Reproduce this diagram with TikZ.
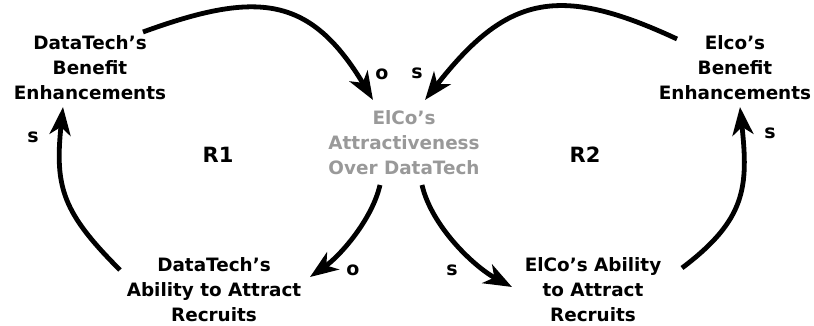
\documentclass[tikz,border=0pt]{standalone}
\usepackage{fontspec}
\setmainfont{DejaVu Sans}
\usepackage{tikz}
\usetikzlibrary{positioning, calc, arrows.meta}
\definecolor{attrgray}{gray}{0.6}

\begin{document}
\begin{tikzpicture}[x=0.5pt, y=0.5pt,
    factor/.style={align=center, font=\bfseries\fontsize{9.2}{12.5}\selectfont, inner sep=0pt},
    link/.style={line width=2.4pt, -{Stealth[length=14pt, width=10.5pt, inset=4pt]}},
    pol/.style={font=\bfseries\fontsize{9.5}{12}\selectfont, inner sep=0pt},
    loopname/.style={font=\bfseries\fontsize{10.5}{13}\selectfont, inner sep=0pt}]

    \useasboundingbox (0,0) rectangle (814,326);

    % --- Variables ---
    \node[factor] (dtben) at (90,258) {DataTech's\\Benefit\\Enhancements};
    \node[factor, text=attrgray] (attr) at (404,183) {ElCo's\\Attractiveness\\Over DataTech};
    \node[factor] (elben) at (735,258) {Elco's\\Benefit\\Enhancements};
    \node[factor] (dtabil) at (214,36) {DataTech's\\Ability to Attract\\Recruits};
    \node[factor] (elabil) at (593,36) {ElCo's Ability\\to Attract\\Recruits};

    % --- Loop names ---
    \node[loopname] (r1) at (218,171) {R1};
    \node[loopname] (r2) at (585,171) {R2};

    % --- Left loop R1 ---
    \draw[link] ([shift={(53,36)}]dtben.center) to[out=20, in=121, looseness=1.3]
        ([shift={(-31,43)}]attr.center);
    \draw[link] ([shift={(-24,-42)}]attr.center) to[out=-103, in=35, looseness=0.8]
        ([shift={(96,13)}]dtabil.center);
    \draw[link] ([shift={(-94,20)}]dtabil.center) to[out=135, in=-96, looseness=1.2]
        ([shift={(-27,-39)}]dtben.center);

    % --- Right loop R2 ---
    \draw[link] ([shift={(-58,29)}]elben.center) to[out=155, in=52, looseness=1.3]
        ([shift={(21,43)}]attr.center);
    \draw[link] ([shift={(18,-42)}]attr.center) to[out=-77, in=152, looseness=0.8]
        ([shift={(-81,3)}]elabil.center);
    \draw[link] ([shift={(89,22)}]elabil.center) to[out=37, in=-84, looseness=1.2]
        ([shift={(5,-39)}]elben.center);

    % --- Polarities ---
    \node[pol] (p1) at (382,252) {o};
    \node[pol] (p2) at (417,253) {s};
    \node[pol] (p3) at (33,189) {s};
    \node[pol] (p4) at (770,193) {s};
    \node[pol] (p5) at (353,56) {o};
    \node[pol] (p6) at (452,56) {s};

\end{tikzpicture}
\end{document}
